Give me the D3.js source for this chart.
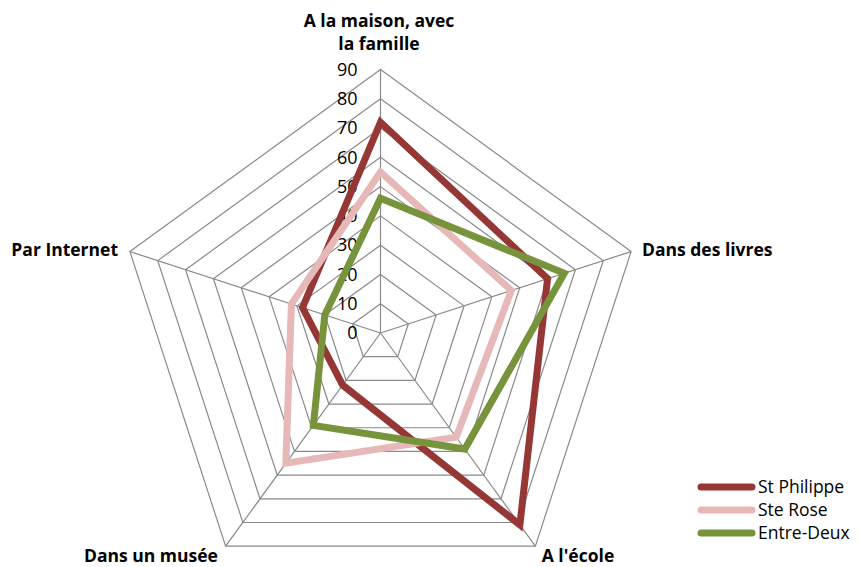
<!DOCTYPE html>
<html><head><meta charset="utf-8">
<script src="https://cdn.jsdelivr.net/npm/d3@7"></script>
<style>body{margin:0;background:#fff}svg{display:block}</style>
</head><body>
<script>
const categories = ["A la maison, avec la famille", "Dans des livres", "A l'école", "Dans un musée", "Par Internet"];
const seriesNames = ["St Philippe", "Ste Rose", "Entre-Deux"];
const stPhilippe = [72, 60, 81, 22, 28];
const steRose = [55, 47, 44, 55, 32];
const entreDeux = [46, 66, 49, 39, 20];
const tickValues = [0, 10, 20, 30, 40, 50, 60, 70, 80, 90];
const colors = ["#953735", "#E6B9B8", "#77933C"];

const W = 858, H = 567;
const cx = 380.5, cy = 333, R = 263.5;
const svg = d3.select("body").append("svg").attr("width", W).attr("height", H);
const r = d3.scaleLinear().domain([0, 90]).range([0, R]);
const angle = d3.scalePoint().domain(categories).range([0, 2*Math.PI*4/5]);
const pt = (cat, v) => {
  const a = angle(cat);
  return [cx + r(v)*Math.sin(a), cy - r(v)*Math.cos(a)];
};
const g = svg.append("g");
// rings
tickValues.filter(t => t > 0).forEach(t => {
  g.append("path")
    .attr("d", d3.line()(categories.map(c => pt(c, t))) + "Z")
    .attr("fill", "none").attr("stroke", "#8a8a8a").attr("stroke-width", 1.2);
});
// spokes
categories.forEach(c => {
  const p = pt(c, 90);
  g.append("line").attr("x1", cx).attr("y1", cy).attr("x2", p[0]).attr("y2", p[1])
    .attr("stroke", "#8a8a8a").attr("stroke-width", 1.2);
});
// tick labels
g.selectAll("text.tick").data(tickValues).join("text")
  .attr("x", cx - 23).attr("y", d => cy - r(d))
  .attr("dy", "0.35em").attr("text-anchor", "end")
  .attr("font-family", "Open Sans, sans-serif").attr("font-size", 18).attr("fill", "#000")
  .text(d => d);
// series
const data = [stPhilippe, steRose, entreDeux];
data.forEach((vals, i) => {
  g.append("path")
    .attr("d", d3.line()(categories.map((c, j) => pt(c, vals[j]))) + "Z")
    .attr("fill", "none").attr("stroke", colors[i]).attr("stroke-width", 7)
    .attr("stroke-linejoin", "miter");
});
// category labels
const lf = "Open Sans, sans-serif";
const lab = (lines, x, y, anchor) => {
  const t = svg.append("text").attr("font-family", lf).attr("font-weight", "bold")
    .attr("font-size", 17.5).attr("text-anchor", anchor).attr("fill", "#000");
  lines.forEach((l, k) => t.append("tspan").attr("x", x).attr("y", y + k*23).text(l));
};
lab(["A la maison, avec", "la famille"], 379, 27, "middle");
lab([categories[1]], 642, 256, "start");
lab([categories[2]], 578, 562, "middle");
lab([categories[3]], 151, 562, "middle");
lab([categories[4]], 118, 256, "end");
// legend
const lg = svg.append("g");
seriesNames.forEach((n, i) => {
  const y = 487 + i*23;
  lg.append("line").attr("x1", 701).attr("x2", 752).attr("y1", y).attr("y2", y)
    .attr("stroke", colors[i]).attr("stroke-width", 7).attr("stroke-linecap", "round");
  lg.append("text").attr("x", 758).attr("y", y).attr("dy", "0.35em")
    .attr("font-family", lf).attr("font-size", 17.5).attr("fill", "#000").text(n);
});
</script>
</body></html>
